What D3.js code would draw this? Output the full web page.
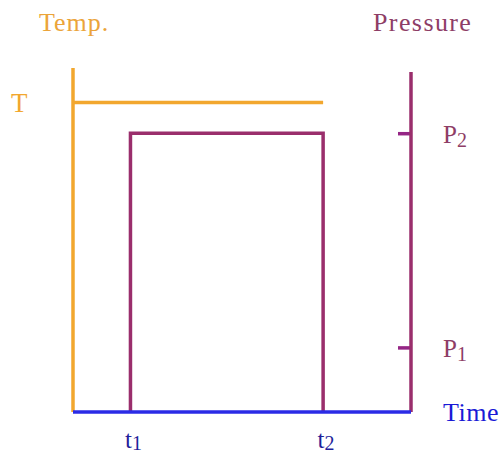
<!DOCTYPE html>
<html>
<head>
<meta charset="utf-8">
<script src="https://cdn.jsdelivr.net/npm/d3@7"></script>
<style>
  html, body { margin: 0; padding: 0; background: #fff; }
</style>
</head>
<body>
<svg id="chart" width="502" height="454"></svg>
<script>
// valori (scale 0-100, senza unità)
const timeNames = ["t1", "t2"];
const timeValues = [17, 74];
const pressureNames = ["P1", "P2"];
const pressureValues = [19, 82];
const tempName = "T";
const tempValue = 90;

// serie: temperatura costante fino a t2, pressione a gradino fra t1 e t2
const tempSeries = [{t: 0, v: tempValue}, {t: timeValues[1], v: tempValue}];
const pressureSeries = [
  {t: timeValues[0], v: 0},
  {t: timeValues[0], v: pressureValues[1]},
  {t: timeValues[1], v: pressureValues[1]},
  {t: timeValues[1], v: 0}
];

const orange = "#f2a72e", purple = "#9a2e6c", blue = "#2b2be6";
const serif = "Liberation Serif";

const svg = d3.select("#chart");

const x = d3.scaleLinear().domain([0, 100]).range([73, 411]);
const yTemp = d3.scaleLinear().domain([0, 100]).range([412, 68]);
const yPress = d3.scaleLinear().domain([0, 100]).range([412, 72]);

// asse temperatura (sinistra)
const gLeft = svg.append("g").attr("transform", "translate(" + x(0) + ",0)");
gLeft.call(d3.axisLeft(yTemp).tickValues([tempValue]).tickSize(0)
  .tickFormat(() => tempName));
gLeft.select(".domain").remove();
gLeft.attr("font-family", serif);
gLeft.selectAll("text").attr("fill", orange).attr("font-size", 27)
  .attr("text-anchor", "start").attr("x", -62).attr("dy", "0.32em");
gLeft.append("line").attr("x1", 0).attr("x2", 0)
  .attr("y1", yTemp(100)).attr("y2", yTemp(0))
  .attr("stroke", orange).attr("stroke-width", 3.5);

// asse pressione (destra)
const gRight = svg.append("g").attr("transform", "translate(" + x(100) + ",0)");
gRight.call(d3.axisRight(yPress).tickValues(pressureValues).tickSizeInner(-13).tickSizeOuter(0).tickPadding(32)
  .tickFormat((d, i) => pressureNames[i]));
gRight.select(".domain").remove();
gRight.attr("font-family", serif);
gRight.selectAll(".tick line").attr("stroke", "#952585").attr("stroke-width", 3.5);
gRight.selectAll("text").each(function(d, i) {
  const t = d3.select(this).text("").attr("fill", "#8e3d66").attr("font-size", 25).attr("dy", "0.36em");
  t.append("tspan").text(pressureNames[i][0]);
  t.append("tspan").text(pressureNames[i].slice(1)).attr("font-size", 20).attr("dy", "4");
});
gRight.append("line").attr("x1", 0).attr("x2", 0)
  .attr("y1", yPress(100)).attr("y2", yPress(0))
  .attr("stroke", purple).attr("stroke-width", 3.5);

// linea temperatura
const lineTemp = d3.line().x(d => x(d.t)).y(d => yTemp(d.v));
svg.append("path").datum(tempSeries).attr("d", lineTemp)
  .attr("fill", "none").attr("stroke", orange).attr("stroke-width", 3.5);

// linea pressione
const linePress = d3.line().x(d => x(d.t)).y(d => yPress(d.v));
svg.append("path").datum(pressureSeries).attr("d", linePress)
  .attr("fill", "none").attr("stroke", purple).attr("stroke-width", 3.5);

// asse tempo
const gBottom = svg.append("g").attr("transform", "translate(0," + yPress(0) + ")");
gBottom.call(d3.axisBottom(x).tickValues(timeValues).tickSize(0).tickPadding(0)
  .tickFormat((d, i) => timeNames[i]));
gBottom.select(".domain").remove();
gBottom.attr("font-family", serif);
gBottom.selectAll("text").each(function(d, i) {
  const t = d3.select(this).text("").attr("fill", "#1f1f9a").attr("font-size", 25)
    .attr("text-anchor", "start").attr("x", -6).attr("y", 36).attr("dy", 0);
  t.append("tspan").text(timeNames[i][0]);
  t.append("tspan").text(timeNames[i].slice(1)).attr("font-size", 20).attr("dy", "2");
});
gBottom.append("line").attr("x1", x(0)).attr("x2", x(100))
  .attr("stroke", blue).attr("stroke-width", 3.5);

// titoli degli assi
svg.append("text").attr("x", 39).attr("y", 31).attr("fill", "#eba43a")
  .attr("font-family", serif).attr("font-size", 26).attr("letter-spacing", 1).text("Temp.");
svg.append("text").attr("x", 373).attr("y", 31).attr("fill", "#8e3d66")
  .attr("font-family", serif).attr("font-size", 26).attr("letter-spacing", 1.4).text("Pressure");
svg.append("text").attr("x", 443).attr("y", 421).attr("fill", "#1a1ad6")
  .attr("font-family", serif).attr("font-size", 26).attr("letter-spacing", 0.5).text("Time");
</script>
</body>
</html>
